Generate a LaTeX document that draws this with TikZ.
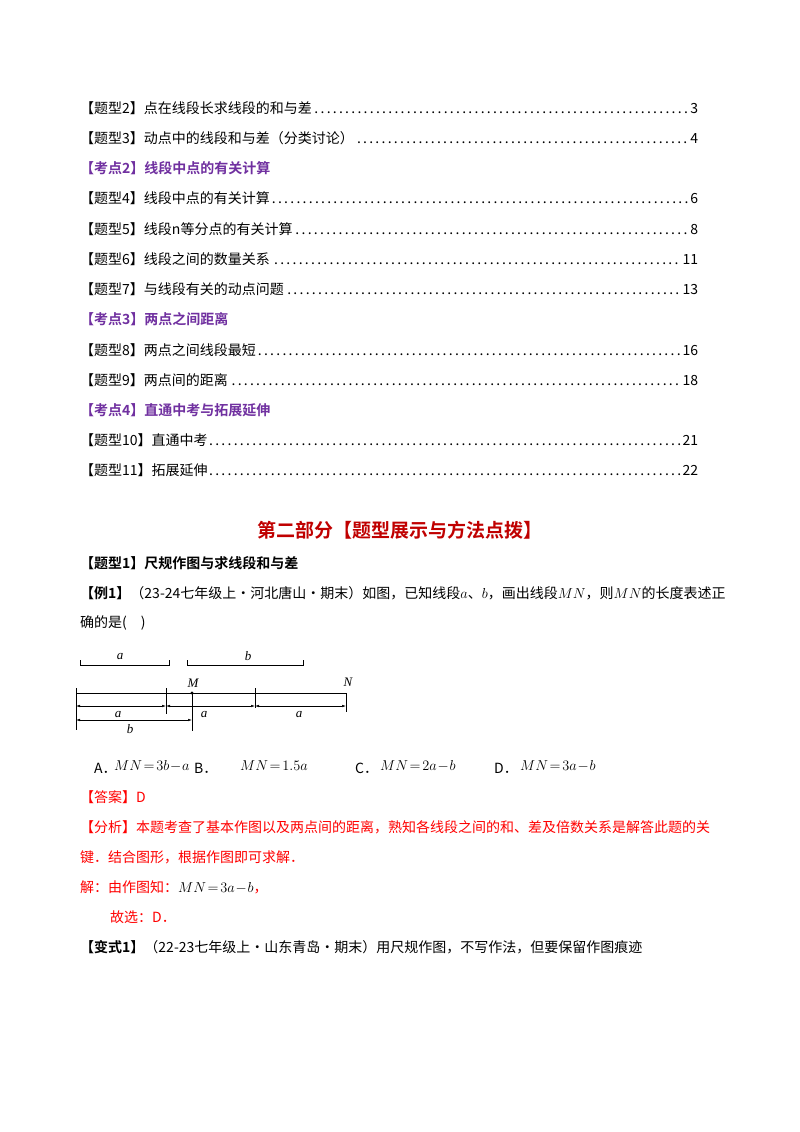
\documentclass[tikz,border=0pt]{standalone}
\usepackage{fontspec}
\setmainfont{Liberation Serif}
\newfontfamily\cjk{Noto Sans CJK SC}
\newfontfamily\cjkb{Noto Sans CJK SC Bold}
\usetikzlibrary{arrows.meta}
\definecolor{pur}{RGB}{112,48,160}
\definecolor{rd}{RGB}{192,0,0}
\definecolor{ans}{RGB}{255,0,0}
\newcommand{\tm}[1]{$\medmuskip=1mu\thickmuskip=2mu #1$}
\begin{document}
\begin{tikzpicture}[x=1pt,y=-1pt,
  txt/.style={anchor=west,inner sep=0pt,font=\cjk\fontsize{14}{16}\selectfont},
  mth/.style={txt},
  toc/.style={txt,text width=618pt},
  head/.style={txt,font=\cjkb\fontsize{14}{16}\selectfont,text=pur},
  fig/.style={line width=0.6pt},
  dim/.style={line width=0.5pt,{Latex[length=4pt,width=2.5pt]}-{Latex[length=4pt,width=2.5pt]}},
  lab/.style={inner sep=0pt,font=\fontsize{13}{14}\selectfont\itshape}]
\useasboundingbox (0,0) rectangle (800,1132);
\fill[white] (0,0) rectangle (800,1132);
\node[toc] (t1) at (80,108) {【题型2】点在线段长求线段的和与差\dotfill 3};
\node[toc] (t2) at (80,138) {【题型3】动点中的线段和与差（分类讨论）\dotfill 4};
\node[head] (h2) at (80,168) {【考点2】线段中点的有关计算};
\node[toc] (t4) at (80,198) {【题型4】线段中点的有关计算\dotfill 6};
\node[toc] (t5) at (80,229) {【题型5】线段n等分点的有关计算\dotfill 8};
\node[toc] (t6) at (80,259) {【题型6】线段之间的数量关系\dotfill 11};
\node[toc] (t7) at (80,289) {【题型7】与线段有关的动点问题\dotfill 13};
\node[head] (h3) at (80,319) {【考点3】两点之间距离};
\node[toc] (t8) at (80,350) {【题型8】两点之间线段最短\dotfill 16};
\node[toc] (t9) at (80,380) {【题型9】两点间的距离\dotfill 18};
\node[head] (h4) at (80,410) {【考点4】直通中考与拓展延伸};
\node[toc] (t10) at (80,440) {【题型10】直通中考\dotfill 21};
\node[toc] (t11) at (80,470) {【题型11】拓展延伸\dotfill 22};
\node[inner sep=0pt,font=\cjkb\fontsize{19}{22}\selectfont,text=rd] (sec) at (400,530) {第二部分【题型展示与方法点拨】};
\node[txt,font=\cjkb\fontsize{14}{16}\selectfont] (q1) at (80,563) {【题型1】尺规作图与求线段和与差};
\node[txt] (ex1) at (80,593) {{\cjkb【例1】}（23-24七年级上·河北唐山·期末）如图，已知线段$a$、$b$，画出线段$MN$，则$MN$的长度表述正};
\node[txt] (ex2) at (80,623) {确的是(\quad)};
% figure
\draw[fig] (80,660)--(80,665)--(169,665)--(169,660);
\node[lab] (la) at (120,656) {a};
\draw[fig] (187,660)--(187,665)--(303,665)--(303,660);
\node[lab] (lb) at (248,656) {b};
\coordinate (A) at (76,693); \coordinate (P) at (166,693);
\coordinate (M) at (192,693); \coordinate (Q) at (255,693); \coordinate (N) at (346,693);
\draw[line width=0.9pt] (A)--(N);
\draw[fig] (76,688)--(76,730);
\draw[fig] (166,688)--(166,714);
\draw[fig] (255,688)--(255,708);
\draw[fig] (192,693)--(192,731);
\draw[fig] (346,693)--(346,712);
\fill (M) circle (1.6pt);
\node[lab] (lM) at (193,683) {M};
\node[lab] (lN) at (348,682) {N};
\draw[dim] (76,706)--(166,706);
\draw[dim] (166,706)--(255,706);
\draw[dim] (255,706)--(346,706);
\draw[dim] (76,720)--(192,720);
\node[lab] (a1) at (118,714) {a};
\node[lab] (a2) at (204,714) {a};
\node[lab] (a3) at (299,714) {a};
\node[lab] (b1) at (130,729) {b};
% options
\node[txt] (oA) at (94,768) {A．};
\node[mth] (fA) at (114,766) {\tm{MN=3b-a}};
\node[txt] (oB) at (194,768) {B．};
\node[mth] (fB) at (240,766) {\tm{MN=1.5a}};
\node[txt] (oC) at (355,768) {C．};
\node[mth] (fC) at (380,766) {\tm{MN=2a-b}};
\node[txt] (oD) at (494,768) {D．};
\node[mth] (fD) at (520,766) {\tm{MN=3a-b}};
\node[txt,text=ans] (an) at (80,797) {【答案】D};
\node[txt,text=ans] (f1) at (80,827) {【分析】本题考查了基本作图以及两点间的距离，熟知各线段之间的和、差及倍数关系是解答此题的关};
\node[txt,text=ans] (f2) at (80,857) {键．结合图形，根据作图即可求解．};
\node[txt,text=ans] (j1) at (80,887) {解：由作图知：{\color{black}\tm{MN=3a-b}}，};
\node[txt,text=ans] (j2) at (110,917) {故选：D．};
\node[txt] (v1) at (80,947) {{\cjkb【变式1】}（22-23七年级上·山东青岛·期末）用尺规作图，不写作法，但要保留作图痕迹};
\end{tikzpicture}
\end{document}
